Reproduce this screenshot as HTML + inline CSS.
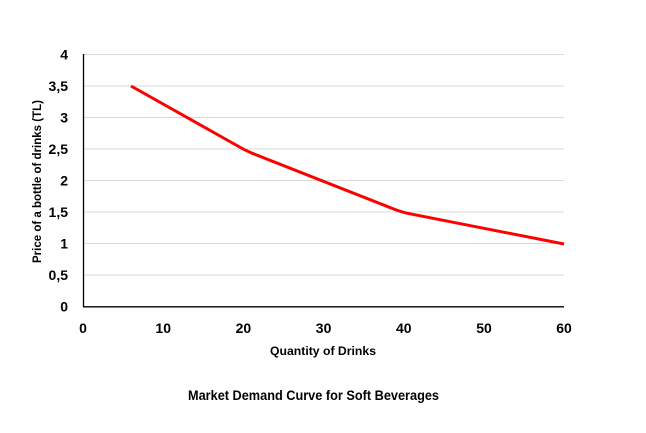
<!DOCTYPE html>
<html>
<head>
<meta charset="utf-8">
<style>
  html,body{margin:0;padding:0;background:#fff;}
  svg{display:block;}
  text{font-family:"Liberation Sans",sans-serif;font-weight:bold;fill:#000;}
</style>
</head>
<body>
<svg width="646" height="433" viewBox="0 0 646 433" xmlns="http://www.w3.org/2000/svg">
  <rect width="646" height="433" fill="#fff"/>
  <!-- gridlines -->
  <g stroke="#d9d9d9" stroke-width="1">
    <line x1="83" y1="54.5" x2="564" y2="54.5"/>
    <line x1="83" y1="86" x2="564" y2="86"/>
    <line x1="83" y1="117.5" x2="564" y2="117.5"/>
    <line x1="83" y1="149" x2="564" y2="149"/>
    <line x1="83" y1="180.5" x2="564" y2="180.5"/>
    <line x1="83" y1="212" x2="564" y2="212"/>
    <line x1="83" y1="243.5" x2="564" y2="243.5"/>
    <line x1="83" y1="275" x2="564" y2="275"/>
  </g>
  <!-- axes -->
  <line x1="83.5" y1="54" x2="83.5" y2="307" stroke="#000" stroke-width="1.3"/>
  <line x1="83" y1="306.8" x2="564" y2="306.8" stroke="#000" stroke-width="1.3"/>
  <!-- y tick labels -->
  <g font-size="14" text-anchor="end">
    <text x="68" y="59.5">4</text>
    <text x="68" y="91">3,5</text>
    <text x="68" y="122.5">3</text>
    <text x="68" y="154">2,5</text>
    <text x="68" y="185.5">2</text>
    <text x="68" y="217">1,5</text>
    <text x="68" y="248.5">1</text>
    <text x="68" y="280">0,5</text>
    <text x="68" y="311.5">0</text>
  </g>
  <!-- x tick labels -->
  <g font-size="14" text-anchor="middle">
    <text x="83" y="333">0</text>
    <text x="163.2" y="333">10</text>
    <text x="243.4" y="333">20</text>
    <text x="323.6" y="333">30</text>
    <text x="403.8" y="333">40</text>
    <text x="484" y="333">50</text>
    <text x="564" y="333">60</text>
  </g>
  <!-- series -->
  <path d="M131,86 L236,145 Q243.4,149.5 251,152.8 L395,209.5 Q403.8,212.8 412,214.2 L564,244" fill="none" stroke="#ff0000" stroke-width="3" stroke-linejoin="round" stroke-linecap="butt"/>
  <!-- axis titles -->
  <text x="323" y="355" font-size="12" text-anchor="middle" textLength="106" lengthAdjust="spacingAndGlyphs">Quantity  of Drinks</text>
  <text transform="translate(41,181.5) rotate(-90)" font-size="12" text-anchor="middle" textLength="163" lengthAdjust="spacingAndGlyphs">Price of a bottle of drinks (TL)</text>
  <!-- chart caption -->
  <text x="313.5" y="400" font-size="13.5" text-anchor="middle" textLength="251" lengthAdjust="spacingAndGlyphs">Market Demand Curve for Soft Beverages</text>
</svg>
</body>
</html>
